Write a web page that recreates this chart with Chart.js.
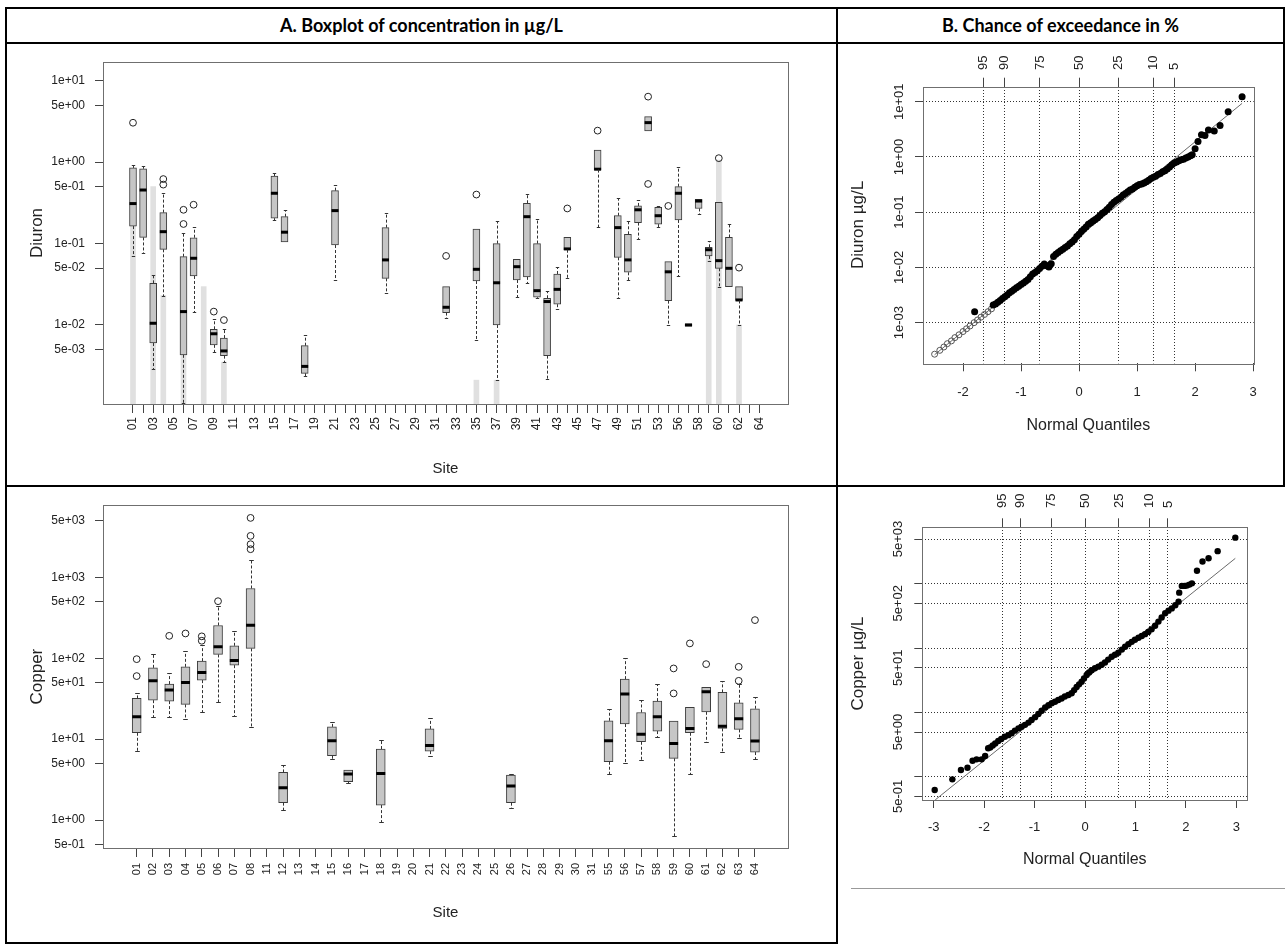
<!DOCTYPE html>
<html>
<head>
<meta charset="utf-8">
<script src="https://cdn.jsdelivr.net/npm/chart.js@4.4.1/dist/chart.umd.min.js"></script>
<style>
  body { margin: 0; background: #fff; }
  #page { position: relative; width: 1285px; height: 945px; overflow: hidden; background: #fff; }
  .ln { position: absolute; background: #000; }
  .hd { position: absolute; top: 9px; height: 33px; line-height: 33px; text-align: center;
        font-family: Lato, "Open Sans", sans-serif; font-weight: 700; font-size: 18px; color: #000; }
  canvas { position: absolute; }
</style>
</head>
<body>
<div id="page">
  <!-- table rules -->
  <div class="ln" style="left:5px;top:7px;width:1280px;height:2px"></div>
  <div class="ln" style="left:5px;top:42px;width:1280px;height:2px"></div>
  <div class="ln" style="left:5px;top:485px;width:1280px;height:2px"></div>
  <div class="ln" style="left:5px;top:942px;width:833px;height:2px"></div>
  <div class="ln" style="left:5px;top:7px;width:2px;height:937px"></div>
  <div class="ln" style="left:836px;top:7px;width:2px;height:937px"></div>
  <div class="ln" style="left:1283px;top:7px;width:2px;height:480px"></div>
  <div class="ln" style="left:851px;top:888px;width:434px;height:1px;background:#999"></div>

  <div class="hd" style="left:7px;width:829px">A. Boxplot of concentration in µg/L</div>
  <div class="hd" style="left:838px;width:445px">B. Chance of exceedance in %</div>

  <canvas id="diuronBox" width="830" height="442" style="left:6px;top:44px"></canvas>
  <canvas id="diuronQQ" width="443" height="442" style="left:839px;top:44px"></canvas>
  <canvas id="copperBox" width="830" height="454" style="left:6px;top:488px"></canvas>
  <canvas id="copperQQ" width="443" height="400" style="left:839px;top:488px"></canvas>
</div>

<script>
// ---------- Diuron boxplot (µg/L) ----------
const diuronSites = ['01','02','03','04','05','06','07','08','09','10','11','12','13','14','15','16','17','18','19','20',
  '21','22','23','24','25','26','27','28','29','30','31','32','33','34','35','36','37','38','39','40',
  '41','42','43','44','45','46','47','48','49','50','51','52','53','55','56','57','58','59','60','61','62','63','64'];
const diuronBoxSites = ['01','02','03','04','06','07','09','10','15','16','18','21','26','32','35','37','39','40',
  '41','42','43','44','47','49','50','51','52','53','55','56','57','58','59','60','61','62'];
const diuronLow  = [0.070,0.076,0.0029,0.023,0.0011,0.0146,0.0047,0.0035,0.195,0.103,0.00236,0.0357,0.0245,0.0121,0.00654,0.0021,0.0223,0.0325,
  0.0213,0.0022,0.0156,0.038,0.16,0.0213,0.0357,0.113,2.42,0.16,0.010,0.040,0.0097,0.231,0.0617,0.0296,0.0296,0.010];
const diuronQ1   = [0.164,0.119,0.006,0.085,0.0043,0.040,0.0057,0.0042,0.205,0.105,0.00255,0.096,0.0374,0.0142,0.0347,0.010,0.0357,0.039,
  0.0219,0.0042,0.018,0.084,0.81,0.0678,0.0444,0.181,2.42,0.173,0.0199,0.195,0.0097,0.27,0.0705,0.0497,0.0296,0.020];
const diuronMed  = [0.31,0.455,0.0105,0.14,0.0146,0.066,0.0078,0.0048,0.415,0.138,0.0031,0.254,0.063,0.0165,0.0483,0.033,0.052,0.214,
  0.0264,0.0194,0.0274,0.086,0.82,0.157,0.063,0.26,3.06,0.22,0.045,0.415,0.010,0.333,0.084,0.0617,0.0497,0.0203];
const diuronQ3   = [0.85,0.83,0.0325,0.24,0.069,0.118,0.00885,0.0069,0.676,0.214,0.00557,0.447,0.157,0.0296,0.151,0.10,0.064,0.313,
  0.10,0.0213,0.0423,0.119,1.41,0.22,0.13,0.29,3.62,0.279,0.060,0.50,0.0103,0.35,0.090,0.32,0.119,0.0296];
const diuronHigh = [0.92,0.90,0.041,0.415,0.136,0.16,0.0117,0.00885,0.74,0.26,0.0075,0.525,0.235,0.0296,0.151,0.19,0.064,0.406,
  0.20,0.0264,0.052,0.119,1.41,0.366,0.19,0.344,3.62,0.29,0.060,0.88,0.0103,0.35,0.109,0.32,0.174,0.0296];
const diuronOutSites = ['01','04','04','06','06','07','09','10','32','35','44','47','52','52','55','60','62'];
const diuronOutVals  = [3.05,0.62,0.53,0.26,0.174,0.30,0.0146,0.0115,0.0705,0.40,0.27,2.44,6.38,0.54,0.29,1.12,0.0506];
// light grey bars (non-detect levels)
const diuronNdSites = ['01','03','04','06','08','10','35','37','59','60','62'];
const diuronNdTops  = [0.30,0.50,0.023,0.0043,0.0296,0.0035,0.0021,0.0021,0.070,1.06,0.010];
const diuronBoxTicks = [0.005,0.01,0.05,0.1,0.5,1,5,10];

// ---------- Copper boxplot (µg/L) ----------
const copperSites = ['01','02','03','04','05','06','07','08','11','12','13','14','15','16','17','18','19','20','21','22',
  '23','24','25','26','27','28','29','30','31','55','56','57','58','59','60','61','62','63','64'];
const copperBoxSites = ['01','02','03','04','05','06','07','08','12','15','16','18','21','26','55','56','57','58','59','60','61','62','63','64'];
const copperLow  = [7.13,18.6,18.9,17.6,21.8,29,19.5,14.2,1.33,5.68,2.84,0.95,6.24,1.42,3.67,5.11,5.52,10.7,0.64,3.7,9.29,6.87,10.4,5.68];
const copperQ1   = [12.0,30.4,29.6,26.9,53.8,111.7,82.4,132.5,1.64,6.24,2.98,1.53,7.13,1.64,5.26,15.4,9.29,12.6,5.79,12.0,21.8,13.6,13.2,6.93];
const copperMed  = [18.9,52.7,40.5,50.3,66.9,139,94.2,257,2.51,9.55,3.7,3.76,8.38,2.63,9.55,36.1,11.5,18.9,8.87,13.6,38.6,14.5,17.9,9.48];
const copperQ3   = [31.9,76.3,48,78.5,92.3,255,143,731,3.88,14.2,4.15,7.55,13.4,3.6,16.9,55.3,21.4,29.6,16.8,24.7,43.7,37.9,28.2,23.8];
const copperHigh = [37.5,112.7,65,124,145,442,219,1636,4.79,16.4,4.15,9.75,18.1,3.76,23.3,101.5,30.4,47.6,16.8,24.7,43.7,52.3,47.9,32.8];
const copperOutSites = ['01','01','03','04','05','05','06','08','08','08','08','59','59','60','61','63','63','64'];
const copperOutVals  = [97.7,60.3,189.7,203,187,165,509,5455,3270,2580,2238,75,36.8,153,84.8,78.5,52.7,297];
const copperBoxTicks = [0.5,1,5,10,50,100,500,1000,5000];

// ---------- normal probability plots ----------
const pctLabels    = ['95','90','75','50','25','10','5'];
const pctQuantiles = [-1.645,-1.282,-0.674,0,0.674,1.282,1.645];

const diuronQQOpenX = [-2.49,-2.40,-2.33,-2.27,-2.20,-2.14,-2.07,-2.00,-1.94,-1.88,-1.81,-1.75,-1.69,-1.63,-1.57,-1.51];
const diuronQQOpenY = [2.69e-4,3.16e-4,3.63e-4,4.17e-4,4.68e-4,5.37e-4,6.03e-4,6.92e-4,7.76e-4,8.71e-4,1.00e-3,1.12e-3,1.26e-3,1.41e-3,1.58e-3,1.78e-3];
const diuronQQX = [-1.80,-1.48,-1.44,-1.40,-1.36,-1.32,-1.28,-1.24,-1.20,-1.16,-1.12,-1.08,-1.04,-1.00,-0.96,-0.92,-0.88,-0.84,-0.80,-0.76,
  -0.72,-0.68,-0.64,-0.60,-0.56,-0.52,-0.48,-0.44,-0.40,-0.36,-0.32,-0.28,-0.24,-0.20,-0.16,-0.12,-0.08,-0.04,0.00,0.04,
  0.08,0.12,0.16,0.20,0.24,0.28,0.32,0.36,0.40,0.44,0.48,0.52,0.56,0.60,0.64,0.68,0.72,0.76,0.80,0.84,
  0.88,0.92,0.96,1.00,1.04,1.08,1.12,1.16,1.20,1.24,1.28,1.32,1.36,1.40,1.44,1.48,1.52,1.56,1.60,1.64,
  1.68,1.72,1.76,1.80,1.84,1.88,1.92,1.95,2.00,2.05,2.11,2.17,2.23,2.33,2.43,2.57,2.81];
const diuronQQY = [1.58e-3,2.09e-3,2.19e-3,2.34e-3,2.51e-3,2.75e-3,2.95e-3,3.16e-3,3.47e-3,3.72e-3,3.98e-3,4.27e-3,4.57e-3,4.90e-3,5.25e-3,5.62e-3,6.03e-3,6.76e-3,7.59e-3,8.13e-3,
  8.71e-3,9.55e-3,1.05e-2,1.15e-2,1.07e-2,1.02e-2,1.17e-2,1.58e-2,1.74e-2,1.86e-2,2.00e-2,2.14e-2,2.29e-2,2.45e-2,2.69e-2,2.88e-2,3.16e-2,3.63e-2,3.98e-2,4.47e-2,
  4.90e-2,5.37e-2,6.03e-2,6.46e-2,6.92e-2,7.41e-2,7.94e-2,8.71e-2,9.55e-2,0.102,0.112,0.123,0.138,0.151,0.162,0.174,0.186,0.204,0.219,0.234,
  0.251,0.263,0.282,0.302,0.316,0.324,0.339,0.355,0.380,0.407,0.427,0.447,0.479,0.501,0.537,0.562,0.603,0.661,0.724,0.776,
  0.813,0.851,0.891,0.912,0.955,1.00,1.05,1.10,1.41,1.91,2.51,2.45,3.09,2.95,3.72,6.61,12.3];
const diuronLineX = [-2.49, 2.81];
const diuronLineY = [2.63e-4, 9.33];
const diuronQQTicks = [0.001,0.01,0.1,1,10];

const copperQQX = [-2.98,-2.63,-2.46,-2.33,-2.23,-2.15,-2.05,-1.98,-1.92,-1.88,-1.83,-1.78,-1.72,-1.66,-1.59,-1.52,-1.455,-1.39,-1.32,-1.26,
  -1.19,-1.12,-1.06,-0.99,-0.925,-0.86,-0.79,-0.725,-0.66,-0.595,-0.53,-0.465,-0.40,-0.33,-0.265,-0.215,-0.166,-0.117,-0.067,-0.02,
  0.032,0.08,0.13,0.197,0.264,0.33,0.396,0.46,0.529,0.595,0.66,0.73,0.795,0.86,0.926,0.99,1.06,1.125,1.19,1.255,
  1.32,1.39,1.456,1.52,1.59,1.655,1.72,1.79,1.855,1.868,1.92,1.97,2.02,2.07,2.12,2.22,2.33,2.45,2.63,2.98];
const copperQQY = [0.627,0.918,1.28,1.39,1.79,1.88,1.88,2.12,2.79,2.88,3.09,3.31,3.63,3.89,4.22,4.47,4.79,5.25,5.69,6.03,
  6.46,7.0,7.67,8.51,9.55,10.7,12.0,13.0,14.0,14.8,15.7,16.6,17.8,18.8,20.0,22.4,25.1,27.5,30.2,33.9,
  38.5,42.2,45.7,49.0,51.9,55.6,60.3,66.8,74.1,79.4,85.1,95.5,106,116,126,136,146,155,166,180,
  197,224,260,302,351,385,417,468,531,733,933,933,944,977,1023,1603,2239,2512,3236,5248];
const copperLineX = [-2.97, 2.98];
const copperLineY = [0.44, 2500];
const copperQQGrid   = [0.5,1,5,10,50,100,500,1000,5000];
const copperQQLabels = [0.5,5,50,500,5000];

const F = '"Liberation Sans", Arial, sans-serif';
const TXT = '#222';
Chart.defaults.font.family = F;

// R style labels: 5e-03, 1e+01 ...
function sci(v) {
  const e = Math.floor(Math.log10(v) + 1e-9);
  const m = Math.round(v / Math.pow(10, e));
  return m + 'e' + (e < 0 ? '-' : '+') + String(Math.abs(e)).padStart(2, '0');
}

function drawFrame(chart) {
  const { ctx, chartArea: a } = chart;
  ctx.save();
  ctx.strokeStyle = '#6f6f6f';
  ctx.lineWidth = 1;
  ctx.strokeRect(Math.round(a.left) + 0.5, Math.round(a.top) + 0.5,
    Math.round(a.right - a.left), Math.round(a.bottom - a.top));
  ctx.restore();
}

function boxChart(id, d) {
  const pos = s => d.sites.indexOf(s);
  const whiskers = {
    id: 'whiskers',
    afterDatasetsDraw(chart) {
      const { ctx, scales: { x, y } } = chart;
      ctx.save();
      ctx.strokeStyle = '#333';
      ctx.lineWidth = 1;
      d.boxSites.forEach((s, i) => {
        const px = Math.round(x.getPixelForValue(pos(s))) + 0.5;
        [[d.q3[i], d.high[i]], [d.q1[i], d.low[i]]].forEach(([a, b]) => {
          if (Math.abs(Math.log10(b / a)) < 0.01) return;
          const pa = y.getPixelForValue(a);
          const pb = Math.round(y.getPixelForValue(b)) + 0.5;
          ctx.setLineDash([3, 2]);
          ctx.beginPath(); ctx.moveTo(px, pa); ctx.lineTo(px, pb); ctx.stroke();
          ctx.setLineDash([]);
          ctx.beginPath(); ctx.moveTo(px - d.cap, pb); ctx.lineTo(px + d.cap, pb); ctx.stroke();
        });
      });
      ctx.restore();
    },
    afterDraw: drawFrame
  };

  const datasets = [
    { type: 'bar', label: 'nd', order: 3, grouped: false,
      data: d.ndSites.map((s, i) => ({ x: pos(s), y: [d.yMin, d.ndTops[i]] })),
      backgroundColor: '#e0e0e0', borderWidth: 0, barThickness: d.ndWidth },
    { type: 'bar', label: 'box', order: 2, grouped: false,
      data: d.boxSites.map((s, i) => ({ x: pos(s), y: [d.q1[i], d.q3[i]] })),
      backgroundColor: '#c6c6c6', borderColor: '#3c3c3c', borderWidth: 1, borderSkipped: false,
      barThickness: d.boxWidth },
    { type: 'scatter', label: 'median', order: 1,
      data: d.boxSites.map((s, i) => ({ x: pos(s), y: d.med[i] })),
      pointStyle: 'line', radius: d.boxWidth / 2, borderWidth: 3, borderColor: '#000' },
    { type: 'scatter', label: 'outliers', order: 0,
      data: d.outSites.map((s, i) => ({ x: pos(s), y: d.outVals[i] })),
      pointStyle: 'circle', radius: 3.4, borderWidth: 1, borderColor: '#222', backgroundColor: 'rgba(0,0,0,0)' }
  ];

  new Chart(document.getElementById(id), {
    type: 'bar',
    data: { datasets },
    plugins: [whiskers],
    options: {
      responsive: false, animation: false, devicePixelRatio: 1,
      layout: { autoPadding: false, padding: { top: d.padTop, right: 48, left: 0, bottom: 0 } },
      plugins: { legend: { display: false }, tooltip: { enabled: false } },
      scales: {
        x: {
          type: 'linear', min: d.xMin, max: d.xMax, offset: false,
          grid: { drawOnChartArea: false, drawTicks: true, tickLength: 9, tickColor: '#444', offset: false },
          border: { display: false },
          afterBuildTicks: s => { s.ticks = d.sites.map((_, i) => ({ value: i })); },
          afterFit: s => { s.height = d.xAxisH; },
          ticks: {
            autoSkip: false, minRotation: 90, maxRotation: 90, padding: d.xPad, color: TXT,
            font: { size: d.xFont },
            callback: (v, i) => (d.every === 1 || i % d.every === 0) ? d.sites[i] : ''
          },
          title: { display: true, text: 'Site', color: TXT, font: { size: 15 },
                   padding: { top: 0, bottom: d.titlePad } }
        },
        y: {
          type: 'logarithmic', min: d.yMin, max: d.yMax,
          grid: { drawOnChartArea: false, tickLength: 8, tickColor: '#444' },
          border: { display: false },
          afterBuildTicks: s => { s.ticks = d.yTicks.map(v => ({ value: v })); },
          afterFit: s => { s.width = 97; },
          ticks: { padding: 10, color: TXT, font: { size: 12 }, callback: v => sci(v) },
          title: { display: true, text: d.yTitle, color: TXT, font: { size: 17 },
                   padding: { top: 21.3, bottom: 0 } }
        }
      }
    }
  });
}

function qqChart(id, d) {
  const yLabels = {
    id: 'ylabels',
    afterDraw(chart) {
      drawFrame(chart);
      const { ctx, scales: { y } } = chart;
      ctx.save();
      ctx.fillStyle = TXT;
      ctx.font = '13px ' + F;
      ctx.textAlign = 'center';
      ctx.textBaseline = 'middle';
      d.yLabels.forEach(v => {
        ctx.save();
        ctx.translate(d.yLabelX, y.getPixelForValue(v));
        ctx.rotate(-Math.PI / 2);
        ctx.fillText(sci(v), 0, 0);
        ctx.restore();
      });
      ctx.restore();
    }
  };

  const datasets = [
    { type: 'line', label: 'fit', order: 3,
      data: d.lineX.map((v, i) => ({ x: v, y: d.lineY[i] })),
      borderColor: '#6a6a6a', borderWidth: 1, pointRadius: 0, fill: false },
    { label: 'detected', order: 1,
      data: d.x.map((v, i) => ({ x: v, y: d.y[i] })),
      pointStyle: 'circle', radius: d.dot, backgroundColor: '#000', borderColor: '#000', borderWidth: 0 }
  ];
  if (d.openX) {
    datasets.push({ label: 'non-detect', order: 2,
      data: d.openX.map((v, i) => ({ x: v, y: d.openY[i] })),
      pointStyle: 'circle', radius: 3, backgroundColor: 'rgba(0,0,0,0)', borderColor: '#555', borderWidth: 1 });
  }

  new Chart(document.getElementById(id), {
    type: 'scatter',
    data: { datasets },
    plugins: [yLabels],
    options: {
      responsive: false, animation: false, devicePixelRatio: 1,
      layout: { autoPadding: false, padding: { top: 0, right: d.padRight, left: 0, bottom: 0 } },
      plugins: { legend: { display: false }, tooltip: { enabled: false } },
      scales: {
        x: {
          type: 'linear', position: 'bottom', min: d.xMin, max: d.xMax,
          grid: { drawOnChartArea: false, tickLength: 8, tickColor: '#444' },
          border: { display: false },
          afterBuildTicks: s => { s.ticks = d.xTicks.map(v => ({ value: v })); },
          afterFit: s => { s.height = d.bottomH; },
          ticks: { autoSkip: false, minRotation: 0, maxRotation: 0, padding: d.xPad, color: TXT, font: { size: 13 } },
          title: { display: true, text: 'Normal Quantiles', color: TXT, font: { size: 16 },
                   padding: { top: 0, bottom: d.titlePad } }
        },
        x2: {
          type: 'linear', position: 'top', axis: 'x', min: d.xMin, max: d.xMax,
          grid: { drawOnChartArea: true, tickLength: 9, tickColor: '#444', color: '#333', lineWidth: 1 },
          border: { display: false, dash: [1, 2] },
          afterBuildTicks: s => { s.ticks = pctQuantiles.map(v => ({ value: v })); },
          afterFit: s => { s.height = d.topH; },
          ticks: { autoSkip: false, minRotation: 90, maxRotation: 90, padding: d.topPad, color: TXT,
                   labelOffset: 15.6, font: { size: 13 }, callback: (v, i) => pctLabels[i] }
        },
        y: {
          type: 'logarithmic', min: d.yMin, max: d.yMax,
          grid: { drawOnChartArea: true, tickLength: 8, tickColor: '#444', color: '#333', lineWidth: 1 },
          border: { display: false, dash: [1, 2] },
          afterBuildTicks: s => { s.ticks = d.yGrid.map(v => ({ value: v })); },
          afterFit: s => { s.width = d.leftW; },
          ticks: { display: false },
          title: { display: true, text: d.yTitle, color: TXT, font: { size: 17 },
                   padding: { top: 8.8, bottom: 0 } }
        }
      }
    }
  });
}

boxChart('diuronBox', {
  sites: diuronSites, boxSites: diuronBoxSites,
  low: diuronLow, q1: diuronQ1, med: diuronMed, q3: diuronQ3, high: diuronHigh,
  outSites: diuronOutSites, outVals: diuronOutVals,
  ndSites: diuronNdSites, ndTops: diuronNdTops,
  yTicks: diuronBoxTicks, yTitle: 'Diuron',
  yMin: 0.00107, yMax: 17.0, xMin: -2.97, xMax: 64.85,
  padTop: 18, xAxisH: 82, xPad: 4, xFont: 12, every: 2, titlePad: 8,
  boxWidth: 7, ndWidth: 5, cap: 1.7
});

boxChart('copperBox', {
  sites: copperSites, boxSites: copperBoxSites,
  low: copperLow, q1: copperQ1, med: copperMed, q3: copperQ3, high: copperHigh,
  outSites: copperOutSites, outVals: copperOutVals,
  ndSites: [], ndTops: [],
  yTicks: copperBoxTicks, yTitle: 'Copper',
  yMin: 0.451, yMax: 7834, xMin: -2.07, xMax: 40.03,
  padTop: 17, xAxisH: 94, xPad: 6, xFont: 11, every: 1, titlePad: 20,
  boxWidth: 9, ndWidth: 5, cap: 2.3
});

qqChart('diuronQQ', {
  x: diuronQQX, y: diuronQQY, openX: diuronQQOpenX, openY: diuronQQOpenY,
  lineX: diuronLineX, lineY: diuronLineY, dot: 3.5,
  xMin: -2.69, xMax: 3.01, xTicks: [-2, -1, 0, 1, 2, 3],
  yMin: 1.84e-4, yMax: 18.69, yGrid: diuronQQTicks, yLabels: diuronQQTicks, yLabelX: 60.7,
  yTitle: 'Diuron µg/L', leftW: 84, padRight: 28.3,
  topH: 42.7, topPad: 7.7, bottomH: 122.7, xPad: 12.9, titlePad: 50.4
});

qqChart('copperQQ', {
  x: copperQQX, y: copperQQY,
  lineX: copperLineX, lineY: copperLineY, dot: 3.2,
  xMin: -3.226, xMax: 3.218, xTicks: [-3, -2, -1, 0, 1, 2, 3],
  yMin: 0.4385, yMax: 7603, yGrid: copperQQGrid, yLabels: copperQQLabels, yLabelX: 59.7,
  yTitle: 'Copper µg/L', leftW: 83.3, padRight: 34.7,
  topH: 39.3, topPad: 10.3, bottomH: 88, xPad: 11.7, titlePad: 18.4
});
</script>
</body>
</html>
